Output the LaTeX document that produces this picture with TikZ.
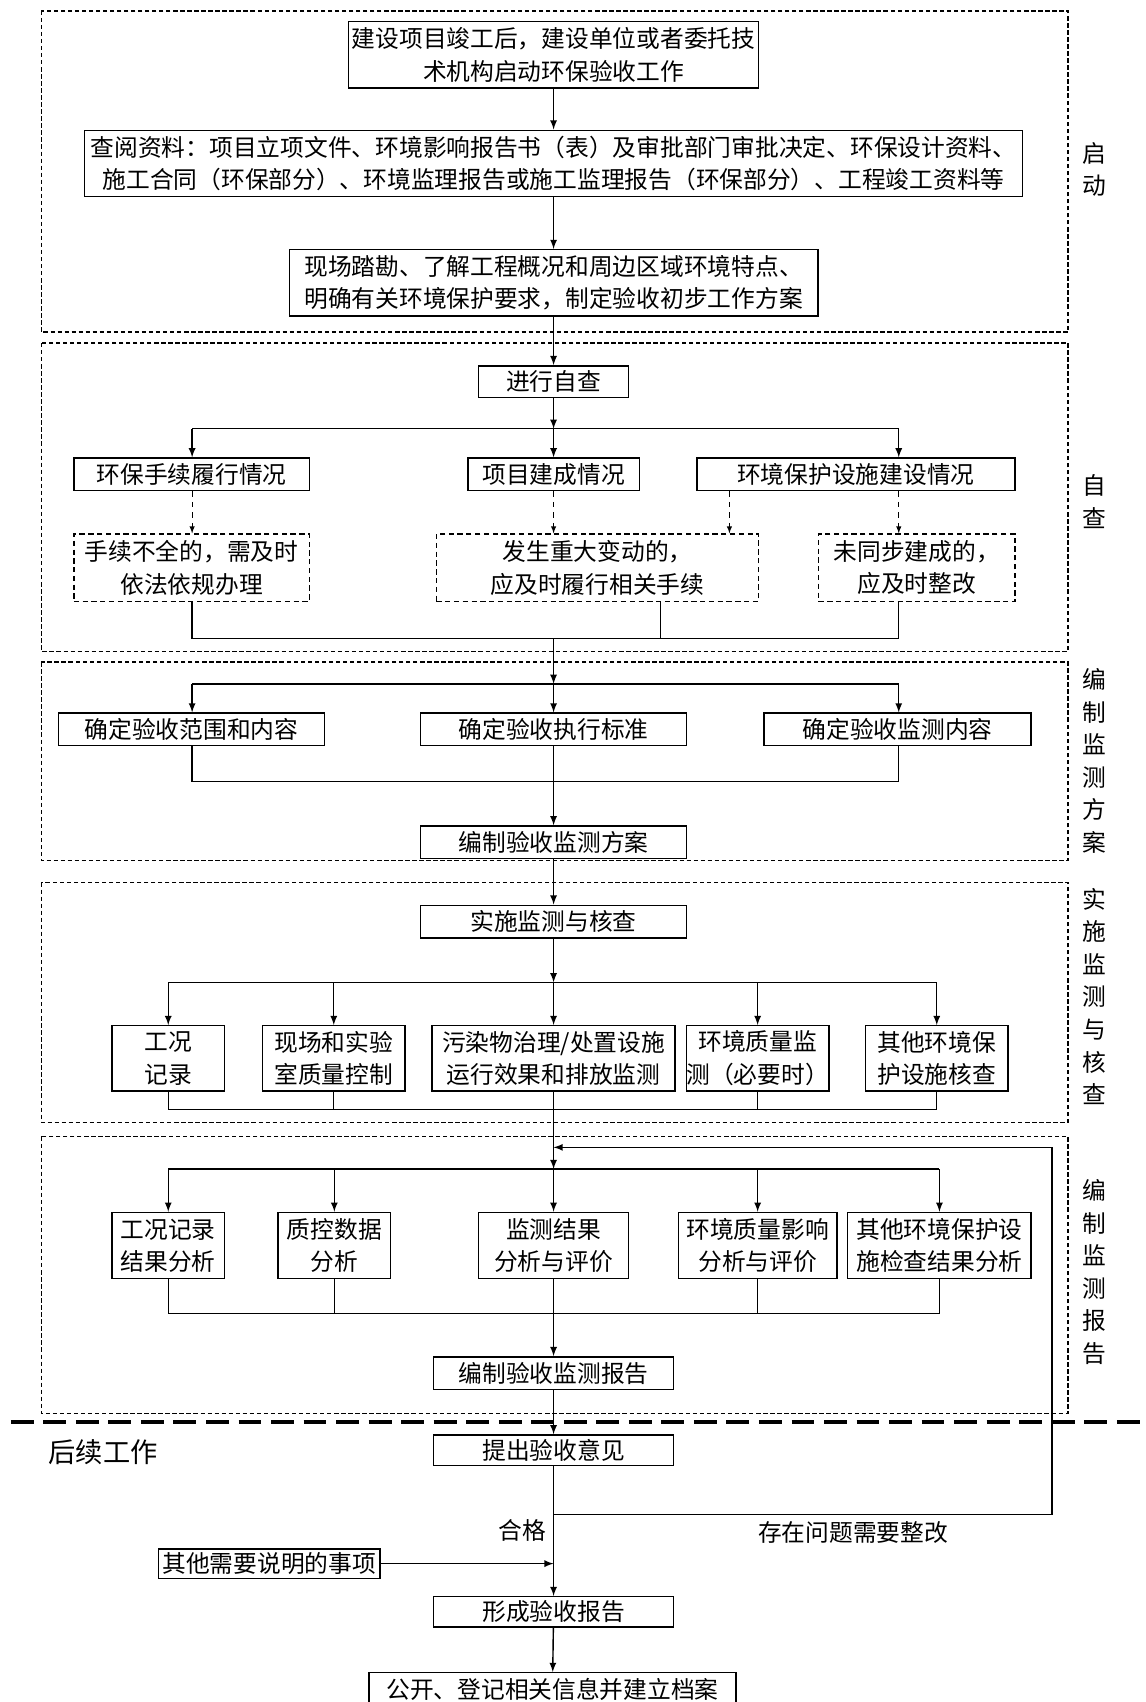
\documentclass[tikz,border=0pt]{standalone}
\usepackage{fontspec}
\setmainfont{Noto Sans CJK SC}
\usetikzlibrary{calc}

\begin{document}
\begin{tikzpicture}[>=latex, x=0.0217cm, y=-0.0217cm,
    font=\fontsize{13.5}{18.5}\selectfont,
    box/.style 2 args={draw, line width=0.8pt, fill=white, inner sep=0pt, align=center,
        minimum width=#1*\px, minimum height=#2*\px},
    dbox/.style 2 args={box={#1}{#2}, dash pattern=on 3pt off 2pt},
    frame/.style={line width=0.8pt, dash pattern=on 2.5pt off 1.5pt},
    sep/.style={line width=2pt, dash pattern=on 13pt off 5.5pt},
    link/.style={line width=0.8pt},
    side/.style={align=center, inner sep=0pt}]
        % --- 1. Parameters ---
        \def\px{0.0217cm} % one pixel of the reference
        \def\mx{510}      % main axis
        \useasboundingbox (0,0) rectangle (1055,1568);

        % columns used by the buses
        \coordinate (cl) at (177,0);
        \coordinate (cr) at (828,0);
        \coordinate (cd) at (672,0);
        \coordinate (cm) at (608,0);

        % --- 2. Stage frames and side labels ---
        \draw[frame] (38,10) rectangle (984,306);
        \draw[frame] (38,316) rectangle (984,600);
        \draw[frame] (38,610) rectangle (984,793);
        \draw[frame] (38,813) rectangle (984,1034);
        \draw[frame] (38,1047) rectangle (984,1302);
        \draw[sep] (10,1310) -- (1055,1310);

        \node[side] (s1) at (1008,156) {启\\动};
        \node[side] (s2) at (1008,462) {自\\查};
        \node[side] (s3) at (1008,701) {编\\制\\监\\测\\方\\案};
        \node[side] (s4) at (1008,918) {实\\施\\监\\测\\与\\核\\查};
        \node[side] (s5) at (1008,1172) {编\\制\\监\\测\\报\\告};

        % --- 3. Start ---
        \node[box={378}{61}] (n1) at (\mx,50.5) {建设项目竣工后，建设单位或者委托技\\术机构启动环保验收工作};
        \node[box={864}{61}] (n2) at (\mx,150.5) {查阅资料：项目立项文件、环境影响报告书（表）及审批部门审批决定、环保设计资料、\\施工合同（环保部分）、环境监理报告或施工监理报告（环保部分）、工程竣工资料等};
        \node[box={487}{61}, align=left] (n3) at (\mx,260.5) {现场踏勘、了解工程概况和周边区域环境特点、\\明确有关环境保护要求，制定验收初步工作方案};
        \draw[->, link] (n1) -- (n2);
        \draw[->, link] (n2) -- (n3);

        % --- 4. Self check ---
        \node[box={138}{29}] (zc) at (\mx,351.5) {进行自查};
        \coordinate (b1) at (\mx,395);
        \node[box={217}{30}] (za) at (176.5,437) {环保手续履行情况};
        \node[box={158}{30}] (zb) at (\mx,437) {项目建成情况};
        \node[box={293}{30}] (zd) at (788.5,437) {环境保护设施建设情况};
        \node[dbox={217}{62}] (ya) at (176.5,523) {手续不全的，需及时\\依法依规办理};
        \node[dbox={297}{62}] (yb) at (550.5,523) {发生重大变动的，\\应及时履行相关手续};
        \node[dbox={181}{62}] (yd) at (844.5,523) {未同步建成的，\\应及时整改};
        \draw[->, link] (n3) -- (zc);
        \draw[->, link] (zc) -- (b1);
        \draw[link] (b1 -| cl) -- (b1 -| cr);
        \draw[->, link] (b1 -| cl) -- (za.north -| cl);
        \draw[->, link] (b1) -- (zb);
        \draw[->, link] (b1 -| cr) -- (zd.north -| cr);
        \draw[->, dashed] (za.south -| cl) -- (ya.north -| cl);
        \draw[->, dashed] (zb) -- (zb |- yb.north);
        \draw[->, dashed] (zd.south -| cd) -- (yb.north -| cd);
        \draw[->, dashed] (zd.south -| cr) -- (yd.north -| cr);
        \coordinate (m1) at (\mx,588);
        \draw[link] (ya.south -| cl) -- (m1 -| cl) -- (m1 -| cr) -- (yd.south -| cr);
        \draw[thin] (yb.south -| cm) -- (m1 -| cm);

        % --- 5. Monitoring plan ---
        \coordinate (b2) at (\mx,630);
        \node[box={245}{30}] (ba) at (176.5,672) {确定验收范围和内容};
        \node[box={245}{30}] (bb) at (\mx,672) {确定验收执行标准};
        \node[box={246}{30}] (bc) at (827,672) {确定验收监测内容};
        \node[box={245}{30}] (fa) at (\mx,776) {编制验收监测方案};
        \draw[->, link] (m1) -- (b2);
        \draw[link] (b2 -| cl) -- (b2 -| cr);
        \draw[->, link] (b2 -| cl) -- (ba.north -| cl);
        \draw[->, link] (b2) -- (bb);
        \draw[->, link] (b2 -| cr) -- (bc.north -| cr);
        \coordinate (m2) at (\mx,720);
        \draw[link] (ba.south -| cl) -- (m2 -| cl) -- (m2 -| cr) -- (bc.south -| cr);
        \draw[->, link] (bb) -- (fa);

        % --- 6. Monitoring and checking ---
        \node[box={245}{30}] (sa) at (\mx,849) {实施监测与核查};
        \coordinate (b3) at (\mx,905);
        \node[box={104}{60}] (c1) at (155,975) {工况\\记录};
        \node[box={131}{60}] (c2) at (307.5,975) {现场和实验\\室质量控制};
        \node[box={224}{60}] (c3) at (\mx,975) {污染物治理/处置设施\\运行效果和排放监测};
        \node[box={130}{60}] (c4) at (698,975) {环境质量监\\测（必要时）};
        \node[box={131}{60}] (c5) at (863,975) {其他环境保\\护设施核查};
        \draw[->, link] (fa) -- (sa);
        \draw[->, link] (sa) -- (b3);
        \draw[link] (b3 -| c1) -- (b3 -| c5);
        \foreach \n in {c1,c2,c3,c4,c5}
            \draw[->, link] (b3 -| \n) -- (\n);
        \coordinate (m3) at (\mx,1022);
        \draw[link] (c1) -- (m3 -| c1) -- (m3 -| c5) -- (c5);
        \foreach \n in {c2,c4}
            \draw[thin] (\n) -- (m3 -| \n);

        % --- 7. Monitoring report ---
        \coordinate (fb) at (\mx,1057);
        \coordinate (b4) at (\mx,1077);
        \node[box={104}{61}] (d1) at (155,1147.5) {工况记录\\结果分析};
        \node[box={104}{61}] (d2) at (308,1147.5) {质控数据\\分析};
        \node[box={138}{61}] (d3) at (\mx,1147.5) {监测结果\\分析与评价};
        \node[box={146}{61}] (d4) at (698,1147.5) {环境质量影响\\分析与评价};
        \node[box={169}{61}] (d5) at (865.5,1147.5) {其他环境保护设\\施检查结果分析};
        \node[box={221}{30}] (ra) at (\mx,1265) {编制验收监测报告};
        \draw[->, link] (c3) -- (b4);
        \draw[link] (b4 -| d1) -- (b4 -| d5);
        \foreach \n in {d1,d2,d3,d4,d5}
            \draw[->, link] (b4 -| \n) -- (\n);
        \coordinate (m4) at (\mx,1210);
        \draw[link] (d1) -- (m4 -| d1) -- (m4 -| d5) -- (d5);
        \foreach \n in {d2,d4}
            \draw[thin] (\n) -- (m4 -| \n);
        \draw[->, link] (d3) -- (ra);

        % --- 8. Follow-up work ---
        \node[font=\fontsize{15.5}{18}\selectfont] (hx) at (95,1338) {后续工作};
        \node[box={221}{28}] (ta) at (\mx,1336) {提出验收意见};
        \node[box={204}{27}] (tb) at (248,1440.5) {其他需要说明的事项};
        \node[box={221}{28}] (tc) at (\mx,1485) {形成验收报告};
        \node[box={338}{30}] (td) at (509,1556) {公开、登记相关信息并建立档案};
        \coordinate (qa) at (\mx,1395);
        \coordinate (qb) at (969,1057);
        \draw[->, link] (ra) -- (ta);
        \draw[->, link] (ta) -- (tc);
        \draw[->, link] (qa) -| (qb) -- (fb);
        \node (ok) at (481,1410) {合格};
        \node (bad) at (786,1412) {存在问题需要整改};
        \draw[->, link] (tb) -- (tb -| qa);
        \draw[->, link] (tc) -- (td);
\end{tikzpicture}
\end{document}
